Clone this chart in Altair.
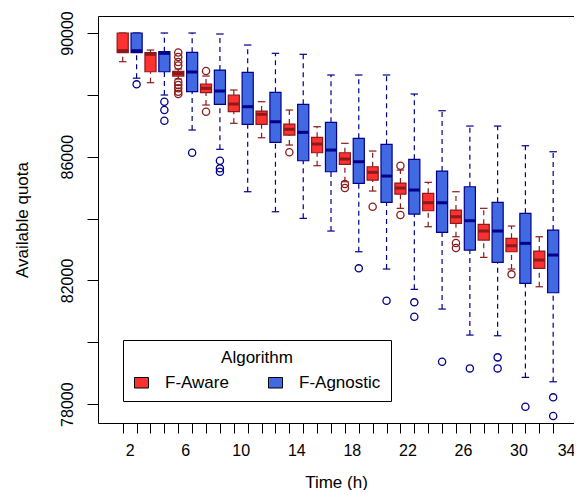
import altair as alt
import pandas as pd

# ---------------- data ----------------
times = [2, 4, 6, 8, 10, 12, 14, 16, 18, 20, 22, 24, 26, 28, 30, 32]
algorithms = ["F-Aware", "F-Agnostic"]

aware_lo  = [89072, 88393, 88512, 87672, 87080, 86614, 86378, 85709, 85191, 84890, 84331, 83736, 83412, 82746, 82368, 81795]
aware_q1  = [89363, 88748, 88609, 88070, 87455, 87047, 86701, 86129, 85754, 85246, 84793, 84253, 83846, 83306, 82927, 82391]
aware_med = [89428, 89311, 88690, 88212, 87704, 87371, 86886, 86410, 85925, 85495, 84987, 84512, 84059, 83597, 83121, 82659]
aware_q3  = [90000, 89363, 88761, 88351, 87995, 87477, 87057, 86627, 86129, 85676, 85149, 84816, 84276, 83813, 83360, 82950]
aware_hi  = [90000, 89450, 88836, 88609, 88157, 87778, 87510, 86970, 86433, 86184, 85569, 85171, 84868, 84331, 83758, 83412]
aware_out = [[], [], [89369, 89224, 89062, 88949, 88415, 88318, 88212, 88102, 88027], [88771, 87455],
             [], [], [86142], [], [85117, 84987], [84382], [85708, 84114], [], [83209, 83047], [], [82196], []]

agn_lo  = [88540, 87995, 86863, 86239, 84868, 84221, 84007, 83597, 82927, 82368, 81711, 81074, 80233, 80211, 78865, 78723]
agn_q1  = [89363, 88748, 88102, 87694, 87047, 86465, 85870, 85514, 85139, 84525, 84147, 83555, 82982, 82584, 81905, 81601]
agn_med = [89428, 89343, 88739, 88124, 87617, 87131, 86789, 86216, 85838, 85375, 84923, 84512, 83930, 83597, 83199, 82821]
agn_q3  = [90000, 89395, 89376, 88803, 88729, 88082, 87694, 87112, 86595, 86400, 85915, 85537, 85029, 84525, 84169, 83629]
agn_hi  = [90000, 90000, 90000, 89968, 89612, 89343, 89311, 88642, 88642, 88642, 88027, 87487, 86992, 86992, 86355, 86161]
agn_out = [[88340], [87778, 87510, 87164], [86129], [85870, 85624, 85514], [], [], [], [],
           [82391], [81343], [81291, 80825], [79370], [79156], [79512, 79156], [77915], [78219, 77614]]

x_label_values = [2, 6, 10, 14, 18, 22, 26, 30, 34]
y_tick_values = [78000, 80000, 82000, 84000, 86000, 88000, 90000]
y_label_values = [78000, 82000, 86000, 90000]

fill_colors = ["#FF3030", "#4169E1"]
dark_colors = ["#8B1A1A", "#00008B"]

# ---------------- tables ----------------
rows, outs = [], []
series = {
    "F-Aware": (aware_lo, aware_q1, aware_med, aware_q3, aware_hi, aware_out),
    "F-Agnostic": (agn_lo, agn_q1, agn_med, agn_q3, agn_hi, agn_out),
}
for algo, (lo, q1, med, q3, hi, out) in series.items():
    for i, t in enumerate(times):
        rows.append(dict(algo=algo, time=t, lo=lo[i], q1=q1[i], med=med[i], q3=q3[i], hi=hi[i]))
        for v in out[i]:
            outs.append(dict(algo=algo, time=t, value=v))
box_df = pd.DataFrame(rows)
out_df = pd.DataFrame(outs)

box_positions = sorted([t - 0.5 for t in times] + [t + 0.5 for t in times])

x_scale = alt.Scale(domain=[-0.28, 34.0], nice=False, zero=False)
y_scale = alt.Scale(domain=[77390, 90550], nice=False, zero=False)
fill_scale = alt.Scale(domain=algorithms, range=fill_colors)
# stroke scale listed in reverse order so its legend is not merged with the fill legend
dark_scale = alt.Scale(domain=algorithms[::-1], range=dark_colors[::-1])

pos_expr = "datum.time + (datum.algo == 'F-Aware' ? -0.5 : 0.5)"

base = alt.Chart(box_df).transform_calculate(pos=pos_expr).transform_calculate(
    xl="datum.pos - 0.4", xr="datum.pos + 0.4", cl="datum.pos - 0.27", cr="datum.pos + 0.27"
)

y_axis = alt.Axis(
    values=y_tick_values,
    labelExpr="indexof([" + ",".join(str(v) for v in y_label_values) + "], datum.value) >= 0 ? datum.label : ''",
    format="d", labelAngle=270, labelAlign="center", labelBaseline="bottom",
    tickSize=11, labelPadding=12, title="Available quota", titlePadding=28,
    grid=False, domain=False,
)

stroke_enc = alt.Stroke("algo:N", scale=dark_scale, legend=None)

upper_whisker = base.mark_rule(strokeDash=[5, 4], strokeWidth=1.2).encode(
    x=alt.X("pos:Q", scale=x_scale, axis=None),
    y=alt.Y("q3:Q", scale=y_scale, axis=y_axis),
    y2="hi:Q",
    stroke=stroke_enc,
)
lower_whisker = base.mark_rule(strokeDash=[5, 4], strokeWidth=1.2).encode(
    x=alt.X("pos:Q", scale=x_scale, axis=None),
    y=alt.Y("lo:Q", scale=y_scale),
    y2="q1:Q",
    stroke=stroke_enc,
)
cap_hi = base.mark_rule(strokeWidth=1.2).encode(
    x=alt.X("cl:Q", scale=x_scale, axis=None), x2="cr:Q",
    y=alt.Y("hi:Q", scale=y_scale), stroke=stroke_enc,
)
cap_lo = base.mark_rule(strokeWidth=1.2).encode(
    x=alt.X("cl:Q", scale=x_scale, axis=None), x2="cr:Q",
    y=alt.Y("lo:Q", scale=y_scale), stroke=stroke_enc,
)
boxes = base.mark_rect(strokeWidth=1.2).encode(
    x=alt.X("xl:Q", scale=x_scale, axis=alt.Axis(
        orient="bottom", values=box_positions, labels=False, tickSize=10, domain=False,
        grid=False, title=None)),
    x2="xr:Q",
    y=alt.Y("q1:Q", scale=y_scale),
    y2="q3:Q",
    fill=alt.Fill("algo:N", scale=fill_scale, legend=alt.Legend(
        title="Algorithm", orient="none", legendX=25, legendY=324, direction="horizontal",
        symbolType="M-1,-0.75H1V0.75H-1Z", symbolSize=196, symbolStrokeColor="black",
        symbolStrokeWidth=1, symbolOpacity=1,
        labelFontSize=17, titleFontSize=17, titleFontWeight="normal", titleAnchor="middle",
        labelOffset=15, columnPadding=37, padding=10, titlePadding=7,
        strokeColor="black", fillColor="white", labelColor="black", titleColor="black",
        labelFont="Liberation Sans", titleFont="Liberation Sans", labelLimit=200,
    )),
    stroke=stroke_enc,
)
medians = base.mark_rule(strokeWidth=3).encode(
    x=alt.X("xl:Q", scale=x_scale, axis=alt.Axis(
        orient="bottom", values=x_label_values, ticks=False, tickSize=0, labelPadding=19,
        labelFlush=12, labelFlushOffset=1, domain=False, grid=False,
        title="Time (h)", titlePadding=16)),
    x2="xr:Q",
    y=alt.Y("med:Q", scale=y_scale),
    stroke=stroke_enc,
)
outliers = alt.Chart(out_df).transform_calculate(pos=pos_expr).mark_point(
    shape="circle", filled=False, size=52, strokeWidth=1.3, opacity=1
).encode(
    x=alt.X("pos:Q", scale=x_scale, axis=None),
    y=alt.Y("value:Q", scale=y_scale),
    stroke=stroke_enc,
)

chart = alt.layer(
    upper_whisker, lower_whisker, cap_hi, cap_lo, boxes, medians, outliers
).resolve_axis(x="independent").properties(
    width=476, height=407,
    autosize=alt.AutoSizeParams(type="none"),
    padding={"left": 90, "top": 8, "right": 0, "bottom": 67},
).configure_view(
    stroke="black", strokeWidth=1
).configure_axis(
    labelFont="Liberation Sans", titleFont="Liberation Sans",
    labelFontSize=16, titleFontSize=17, titleFontWeight="normal",
    labelColor="black", titleColor="black", tickColor="black", tickWidth=1,
)

chart.save("out.html", embed_options={"renderer": "svg", "actions": False})
